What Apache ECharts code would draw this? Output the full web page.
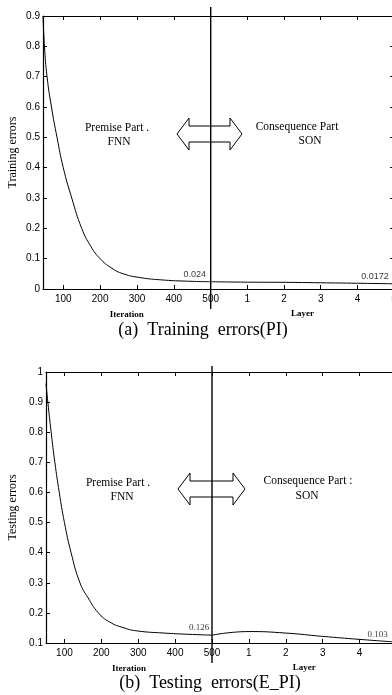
<!DOCTYPE html>
<html><head><meta charset="utf-8">
<script src="https://cdn.jsdelivr.net/npm/echarts@6/dist/echarts.min.js"></script>
<style>html,body{margin:0;padding:0;background:#fff}#c{width:392px;height:695px}</style>
</head><body><div id="c"></div>
<script>
// ---- data ----
const iterTicks = [100, 200, 300, 400, 500];
const layerTicks = [1, 2, 3, 4, 5];
const trainYTicks = [0, 0.1, 0.2, 0.3, 0.4, 0.5, 0.6, 0.7, 0.8, 0.9];
const testYTicks = [0.1, 0.2, 0.3, 0.4, 0.5, 0.6, 0.7, 0.8, 0.9, 1];

const trainIter = [45, 49, 56, 68, 83, 100, 123, 150, 175, 200, 230, 263, 312, 367, 430, 500];
const trainErr  = [0.9, 0.8, 0.7, 0.6, 0.5, 0.4, 0.3, 0.2, 0.14, 0.1, 0.07, 0.05, 0.037, 0.03, 0.026, 0.024];
const trainLayer = [0, 1, 2, 3, 4, 5];
const trainLayerErr = [0.024, 0.0225, 0.022, 0.0205, 0.019, 0.0172];

const testIter = [50, 55, 64, 74, 86, 100, 118, 142, 164, 192, 222, 262, 298, 370, 435, 500];
const testErr  = [0.962, 0.9, 0.8, 0.7, 0.6, 0.5, 0.4, 0.3, 0.25, 0.2, 0.17, 0.15, 0.14, 0.133, 0.129, 0.126];
const testLayer = [0, 1, 2, 3, 4, 5];
const testLayerErr = [0.126, 0.138, 0.133, 0.122, 0.112, 0.103];

// ---- helpers ----
const zip = (a, b) => a.map((v, i) => [v, b[i]]);
const last = (a) => a[a.length - 1];
const BLACK = '#000';
const sans = 'Liberation Sans';
const serif = 'Liberation Serif';
const axLine = { show: true, onZero: false, lineStyle: { color: BLACK, width: 1.2 } };
const tickIn = (extra) => Object.assign({ show: true, inside: true, length: 4, lineStyle: { color: BLACK, width: 1 } }, extra || {});
const lblStyle = { color: BLACK, fontFamily: sans, fontSize: 10 };

function xIter(grid, min, max, pos, withLabel, name, gap) {
  return {
    type: 'value', gridIndex: grid, position: pos, min: min, max: max,
    axisLine: axLine,
    axisTick: tickIn({ customValues: iterTicks }),
    axisLabel: withLabel ? Object.assign({ show: true, margin: 5, customValues: iterTicks }, lblStyle) : { show: false },
    splitLine: { show: false },
    name: withLabel ? name : '', nameLocation: 'middle', nameGap: gap,
    nameTextStyle: { fontFamily: serif, fontSize: 9, fontWeight: 'bold', color: BLACK }
  };
}
function xLayer(grid, pos, withLabel, name, gap) {
  return {
    type: 'value', gridIndex: grid, position: pos, min: 0, max: 5, interval: 1,
    axisLine: axLine,
    axisTick: tickIn(),
    axisLabel: withLabel ? Object.assign({ show: true, margin: 5, formatter: v => (layerTicks.indexOf(v) >= 0 ? String(v) : '') }, lblStyle) : { show: false },
    splitLine: { show: false },
    name: withLabel ? name : '', nameLocation: 'middle', nameGap: gap,
    nameTextStyle: { fontFamily: serif, fontSize: 9, fontWeight: 'bold', color: BLACK }
  };
}
function yErr(grid, ticks, pos, withLabel, name, gap) {
  return {
    type: 'value', gridIndex: grid, position: pos, min: ticks[0], max: last(ticks), interval: 0.1,
    axisLine: axLine,
    axisTick: tickIn(),
    axisLabel: withLabel ? Object.assign({ show: true, margin: 3 }, lblStyle) : { show: false },
    splitLine: { show: false },
    name: withLabel ? name : '', nameLocation: 'middle', nameGap: gap, nameRotate: 90,
    nameTextStyle: { fontFamily: serif, fontSize: 12, color: BLACK }
  };
}
const hiddenX = (g) => ({ type: 'value', gridIndex: g, min: 0, max: 5, show: false });
const hiddenY = (g) => ({ type: 'value', gridIndex: g, min: 0, max: 1, show: false });

function curve(xi, yi, data) {
  return { type: 'line', xAxisIndex: xi, yAxisIndex: yi, data: data, showSymbol: false, symbol: 'none',
    smooth: 0.5, lineStyle: { color: BLACK, width: 1 }, silent: true, z: 3 };
}
function endLabel(xi, yi, xs, ys, dx, dy, font) {
  return { type: 'scatter', xAxisIndex: xi, yAxisIndex: yi, symbolSize: 0,
    data: [[last(xs), last(ys)]],
    label: { show: true, position: 'top', distance: 3, offset: [dx, dy],
      formatter: p => String(p.value[1]), color: BLACK, fontFamily: font, fontSize: 9 },
    silent: true, z: 4 };
}
function vline(xi, yi, xs) {
  return { type: 'line', xAxisIndex: xi, yAxisIndex: yi, data: [[xs[0], 0], [xs[0], 1]],
    showSymbol: false, symbol: 'none', lineStyle: { color: BLACK, width: 1.4 }, silent: true, z: 5 };
}
function arrow(x1, x2, cy, hh, sh, hw) {
  return { type: 'polygon', z: 10, silent: true,
    shape: { points: [[x1, cy], [x1 + hw, cy - hh], [x1 + hw, cy - sh], [x2 - hw, cy - sh], [x2 - hw, cy - hh], [x2, cy],
      [x2 - hw, cy + hh], [x2 - hw, cy + sh], [x1 + hw, cy + sh], [x1 + hw, cy + hh]] },
    style: { fill: 'none', stroke: BLACK, lineWidth: 1 } };
}
function txt(t, x, y, size, family) {
  return { type: 'text', x: x, y: y, z: 10, silent: true,
    style: { text: t, fill: BLACK, font: size + 'px "' + (family || serif) + '"', textAlign: 'center', textVerticalAlign: 'middle' } };
}
const G = (o) => Object.assign({ outerBoundsMode: 'none', containLabel: false }, o);

const chart = echarts.init(document.getElementById('c'), null, { renderer: 'canvas' });
chart.setOption({
  animation: false,
  backgroundColor: '#fff',
  grid: [
    G({ left: 43, top: 16, width: 167.7, height: 273 }),
    G({ left: 210.7, top: 16, width: 183.4, height: 273 }),
    G({ left: 210.7, top: 7, width: 183.4, height: 302 }),
    G({ left: 46, top: 372, width: 166, height: 271 }),
    G({ left: 212, top: 372, width: 184.5, height: 271 }),
    G({ left: 212, top: 366, width: 184.5, height: 297 })
  ],
  xAxis: [
    xIter(0, trainIter[0], last(iterTicks), 'bottom', true, 'Iteration', 21),
    xIter(0, trainIter[0], last(iterTicks), 'top', false),
    xLayer(1, 'bottom', true, 'Layer', 20),
    xLayer(1, 'top', false),
    hiddenX(2),
    xIter(3, testIter[0], last(iterTicks), 'bottom', true, 'Iteration', 21),
    xIter(3, testIter[0], last(iterTicks), 'top', false),
    xLayer(4, 'bottom', true, 'Layer', 20),
    xLayer(4, 'top', false),
    hiddenX(5)
  ],
  yAxis: [
    yErr(0, trainYTicks, 'left', true, 'Training errors', 24),
    yErr(1, trainYTicks, 'right', false),
    hiddenY(2),
    yErr(3, testYTicks, 'left', true, 'Testing errors', 27),
    yErr(4, testYTicks, 'right', false),
    hiddenY(5)
  ],
  series: [
    curve(0, 0, zip(trainIter, trainErr)),
    curve(2, 1, zip(trainLayer, trainLayerErr)),
    vline(4, 2, trainLayer),
    endLabel(0, 0, trainIter, trainErr, -16, 0, sans),
    endLabel(2, 1, trainLayer, trainLayerErr, -19, 0, sans),
    curve(5, 3, zip(testIter, testErr)),
    curve(7, 4, zip(testLayer, testLayerErr)),
    vline(9, 5, testLayer),
    endLabel(5, 3, testIter, testErr, -13, 0, serif),
    endLabel(7, 4, testLayer, testLayerErr, -19, 0, serif)
  ],
  graphic: [
    arrow(177, 242, 134, 16, 8, 12),
    arrow(178, 245, 489, 16, 8, 12),
    txt('Premise Part .', 117, 128, 11.5),
    txt('FNN', 119, 142, 11.5),
    txt('Consequence Part', 297, 127, 11.5),
    txt('SON', 310, 141, 11.5),
    txt('Premise Part .', 118, 483, 11.5),
    txt('FNN', 122, 497, 11.5),
    txt('Consequence Part :', 308, 481, 11.5),
    txt('SON', 307, 496, 11.5),
    txt('(a)  Training  errors(PI)', 203, 330, 18),
    txt('(b)  Testing  errors(E_PI)', 210, 683, 18)
  ]
});
</script>
</body></html>
